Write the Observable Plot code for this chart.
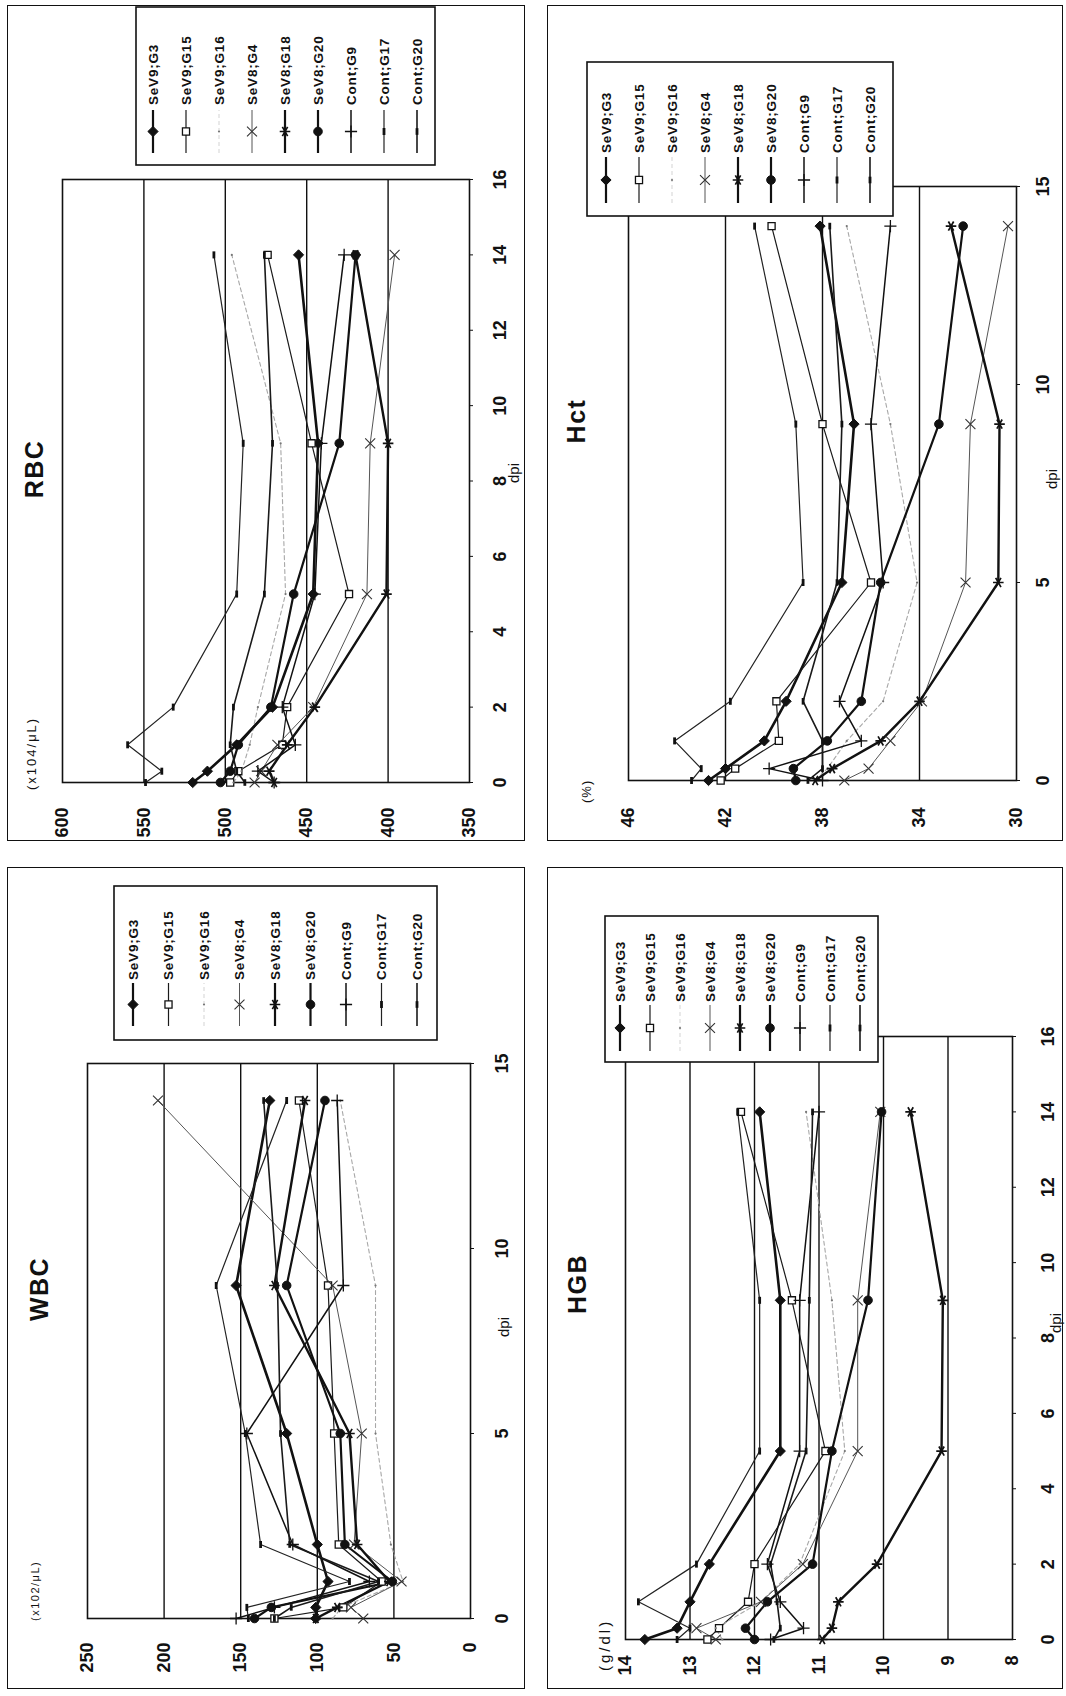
<!DOCTYPE html>
<html>
<head>
<meta charset="utf-8">
<script src="https://cdn.jsdelivr.net/npm/d3@7"></script>
<script src="https://cdn.jsdelivr.net/npm/@observablehq/plot@0.6"></script>
<style>
html, body { margin: 0; padding: 0; background: #fff; }
#page { position: relative; width: 1066px; height: 1696px; overflow: hidden; background: #fff; }
.inner { position: absolute; transform-origin: 0 0; }
.inner svg { position: absolute; left: 0; top: 0; overflow: visible; }
.border { position: absolute; box-sizing: border-box; border: 1.6px solid #111; pointer-events: none; }
</style>
</head>
<body>
<div id="page"></div>
<script>
// ---------- data ----------
const days = [0, 0.3, 1, 2, 5, 9, 14];
const seriesNames = ["SeV9;G3", "SeV9;G15", "SeV9;G16", "SeV8;G4", "SeV8;G18", "SeV8;G20", "Cont;G9", "Cont;G17", "Cont;G20"];

// RBC (x104/μL), one row per series, one value per day
const rbcValues = [
  [520, 511, 493, 471, 446, 443, 455],
  [497, 492, 465, 462, 424, 447, 474],
  [495, 490, 485, 480, 463, 466, 496],
  [482, 478, 468, 446, 413, 411, 396],
  [470, 473, 462, 445, 401, 400, 420],
  [503, 497, 492, 472, 458, 430, 420],
  [470, 480, 457, 465, 445, 441, 427],
  [549, 539, 560, 532, 493, 489, 507],
  [488, 493, 497, 495, 476, 471, 476]
];
// Hct (%)
const hctValues = [
  [42.7, 42.0, 40.4, 39.5, 37.2, 36.7, 38.1],
  [42.2, 41.6, 39.8, 39.9, 36.0, 38.0, 40.1],
  [38.3, 37.8, 37.0, 35.5, 34.1, 35.2, 37.0],
  [37.1, 36.1, 35.2, 33.9, 32.1, 31.9, 30.35],
  [38.3, 37.6, 35.6, 34.0, 30.75, 30.7, 32.7],
  [39.1, 39.2, 37.8, 36.4, 35.6, 33.2, 32.2],
  [38.0, 40.2, 36.4, 37.3, 35.5, 36.0, 35.2],
  [43.4, 43.0, 44.1, 41.8, 38.8, 39.1, 40.8],
  [38.6, 38.0, 38.0, 38.8, 37.4, 37.2, 37.7]
];
// WBC (x102/μL)
const wbcValues = [
  [101, 101, 93, 100, 120, 153, 131],
  [128, 83, 58, 86, 89, 93, 112],
  [90, 84, 44, 52, 62, 62, 85],
  [70, 78, 45, 76, 71, 90, 204],
  [101, 87, 53, 74, 79, 128, 108],
  [141, 130, 51, 82, 85, 120, 95],
  [153, 128, 66, 116, 146, 83, 87],
  [145, 146, 79, 137, 147, 166, 120],
  [128, 117, 60, 118, 124, 126, 135]
];
// HGB (g/dl)
const hgbValues = [
  [13.7, 13.2, 13.0, 12.7, 11.6, 11.6, 11.92],
  [12.73, 12.55, 12.1, 12.0, 10.9, 11.42, 12.21],
  [12.5, 12.6, 11.9, 11.3, 10.6, 10.8, 11.2],
  [12.6, 12.9, 11.9, 11.25, 10.4, 10.4, 10.05],
  [10.95, 10.8, 10.7, 10.1, 9.1, 9.08, 9.58],
  [12.0, 12.14, 11.8, 11.1, 10.8, 10.24, 10.03],
  [11.75, 11.24, 11.6, 11.8, 11.3, 11.3, 11.0],
  [13.2, 13.0, 13.8, 12.9, 11.92, 11.92, 12.26],
  [11.7, 11.6, 11.65, 11.75, 11.2, 11.15, 11.1]
];

// tick labels
const rbcTicks = [350, 400, 450, 500, 550, 600];
const rbcGrid = [400, 450, 500, 550];
const rbcDayTicks = [0, 2, 4, 6, 8, 10, 12, 14, 16];
const hctTicks = [30, 34, 38, 42, 46];
const hctGrid = [34, 38, 42];
const hctDayTicks = [0, 5, 10, 15];
const wbcTicks = [0, 50, 100, 150, 200, 250];
const wbcGrid = [50, 100, 150, 200];
const wbcDayTicks = [0, 5, 10, 15];
const hgbTicks = [8, 9, 10, 11, 12, 13, 14];
const hgbGrid = [9, 10, 11, 12, 13];
const hgbDayTicks = [0, 2, 4, 6, 8, 10, 12, 14, 16];

// ---------- styles ----------
const dashSymbol = {
  draw(ctx, size) {
    const w = Math.sqrt(size) * 1.1, h = 1.4;
    ctx.moveTo(-w / 2, -h); ctx.lineTo(w / 2, -h); ctx.lineTo(w / 2, h); ctx.lineTo(-w / 2, h); ctx.closePath();
  }
};
const styles = [
  {color: "#111", width: 2.6, symbol: d3.symbolDiamond2, r: 4.6, fill: "#111", stroke: "#111", sw: 1},
  {color: "#1a1a1a", width: 1.2, symbol: d3.symbolSquare, r: 4.0, fill: "#fff", stroke: "#111", sw: 1.3},
  {color: "#a8a8a8", width: 1.1, dash: "4,3", symbol: d3.symbolCircle, r: 1.1, fill: "#777", stroke: "none", sw: 0},
  {color: "#555", width: 1.0, symbol: d3.symbolTimes, r: 4.6, fill: "none", stroke: "#333", sw: 1.1},
  {color: "#111", width: 2.4, symbol: d3.symbolAsterisk, r: 5.0, fill: "none", stroke: "#111", sw: 1.7},
  {color: "#111", width: 2.2, symbol: d3.symbolCircle, r: 4.3, fill: "#111", stroke: "#111", sw: 1},
  {color: "#111", width: 1.5, symbol: d3.symbolPlus, r: 4.0, fill: "none", stroke: "#111", sw: 1.3},
  {color: "#222", width: 1.2, symbol: dashSymbol, r: 3.6, fill: "#111", stroke: "none", sw: 0},
  {color: "#1a1a1a", width: 1.6, symbol: dashSymbol, r: 3.4, fill: "#111", stroke: "none", sw: 0}
];

// ---------- panels (image box L,T,w,h; everything else in un-rotated coordinates) ----------
const panels = [
  {title: "RBC", unit: "(x104/μL)", values: rbcValues, ticks: rbcTicks, grid: rbcGrid, dayTicks: rbcDayTicks,
   L: 7, T: 5, w: 518, h: 836, xDomain: [0, 16], yDomain: [350, 600],
   m: {left: 58, right: 175, top: 55, bottom: 56}, xPad: 20, yPad: 25,
   titlePos: [372, 27], unitPos: [51, 24.5, 13, 2], dpiPos: [368, 506],
   legend: {u: 676, v: 129, w: 158, h: 299, first: 17, step: 33, l1: 12, l2: 55, tx: 60}},
  {title: "Hct", unit: "(%)", values: hctValues, ticks: hctTicks, grid: hctGrid, dayTicks: hctDayTicks,
   L: 547, T: 5, w: 516, h: 836, xDomain: [0, 15], yDomain: [30, 46],
   m: {left: 60, right: 182, top: 81, bottom: 47}, xPad: 16, yPad: 27,
   titlePos: [420, 29], unitPos: [38, 39, 13, 1], dpiPos: [362, 504],
   legend: {u: 625, v: 40, w: 154, h: 306, first: 19, step: 33, l1: 13, l2: 59, tx: 63}},
  {title: "WBC", unit: "(x102/μL)", values: wbcValues, ticks: wbcTicks, grid: wbcGrid, dayTicks: wbcDayTicks,
   L: 7, T: 867, w: 518, h: 822, xDomain: [0, 15], yDomain: [0, 250],
   m: {left: 70, right: 197, top: 80, bottom: 55}, xPad: 21, yPad: 24,
   titlePos: [400, 32], unitPos: [68, 28, 11, 1.5], dpiPos: [362, 496],
   legend: {u: 649, v: 107, w: 154, h: 323, first: 19, step: 35.5, l1: 14, l2: 57, tx: 60}},
  {title: "HGB", unit: "(g/dl)", values: hgbValues, ticks: hgbTicks, grid: hgbGrid, dayTicks: hgbDayTicks,
   L: 547, T: 867, w: 516, h: 822, xDomain: [0, 16], yDomain: [8, 14],
   m: {left: 49, right: 170, top: 78, bottom: 51}, xPad: 25, yPad: 16,
   titlePos: [405, 30], unitPos: [18, 57, 15, 3], dpiPos: [366, 508],
   legend: {u: 627, v: 58, w: 146, h: 273, first: 15, step: 30, l1: 11, l2: 57, tx: 60}}
];

const page = document.getElementById("page");
const FONT = "'Liberation Sans', Arial, Helvetica, sans-serif";

for (const p of panels) {
  const W = p.h, H = p.w; // un-rotated width/height
  const inner = document.createElement("div");
  inner.className = "inner";
  inner.style.left = p.L + "px";
  inner.style.top = p.T + "px";
  inner.style.width = W + "px";
  inner.style.height = H + "px";
  inner.style.transform = `translate(0px, ${W}px) rotate(-90deg)`;

  const rows = [];
  p.values.forEach((vals, si) => vals.forEach((v, di) => rows.push({series: seriesNames[si], si, day: days[di], value: v})));

  const marks = [
    Plot.ruleY(p.grid, {stroke: "#111", strokeWidth: 1.4}),
    Plot.frame({stroke: "#111", strokeWidth: 1.6})
  ];
  seriesNames.forEach((name, si) => {
    const st = styles[si];
    marks.push(Plot.line(rows.filter(r => r.si === si), {x: "day", y: "value", stroke: st.color, strokeWidth: st.width, strokeDasharray: st.dash, strokeLinejoin: "round"}));
  });
  seriesNames.forEach((name, si) => {
    const st = styles[si];
    marks.push(Plot.dot(rows.filter(r => r.si === si), {x: "day", y: "value", symbol: st.symbol, r: st.r, fill: st.fill, stroke: st.stroke, strokeWidth: st.sw}));
  });
  marks.push(Plot.axisX({ticks: p.dayTicks, tickSize: 4, tickPadding: p.xPad, tickFormat: d => String(d), label: null, stroke: "#111"}));
  marks.push(Plot.axisY({ticks: p.ticks, tickSize: 0, tickPadding: p.yPad, tickFormat: d => String(d), label: null}));

  const chart = Plot.plot({
    width: W, height: H,
    marginLeft: p.m.left, marginRight: p.m.right, marginTop: p.m.top, marginBottom: p.m.bottom,
    x: {domain: p.xDomain},
    y: {domain: p.yDomain},
    style: {fontFamily: FONT, fontSize: "18px", fontWeight: "bold", color: "#111", background: "transparent", overflow: "visible"},
    marks
  });
  inner.appendChild(chart);

  // overlay: title, unit, axis label, legend
  const ov = d3.create("svg").attr("width", W).attr("height", H)
    .style("font-family", FONT).style("overflow", "visible");
  ov.append("text").attr("x", p.titlePos[0]).attr("y", p.titlePos[1])
    .attr("text-anchor", "middle").attr("dominant-baseline", "central")
    .attr("font-size", 25).attr("font-weight", "bold").attr("letter-spacing", 1.5).attr("fill", "#111").text(p.title);
  ov.append("text").attr("x", p.unitPos[0]).attr("y", p.unitPos[1])
    .attr("dominant-baseline", "central").attr("font-size", p.unitPos[2]).attr("letter-spacing", p.unitPos[3])
    .attr("fill", "#111").text(p.unit);
  ov.append("text").attr("x", p.dpiPos[0]).attr("y", p.dpiPos[1])
    .attr("text-anchor", "middle").attr("dominant-baseline", "central")
    .attr("font-size", 15).attr("fill", "#111").text("dpi");

  const lg = p.legend;
  const g = ov.append("g").attr("transform", `translate(${lg.u},${lg.v})`);
  g.append("rect").attr("width", lg.w).attr("height", lg.h).attr("fill", "#fff").attr("stroke", "#111").attr("stroke-width", 1.6);
  seriesNames.forEach((name, i) => {
    const st = styles[i];
    const y = lg.first + i * lg.step;
    g.append("line").attr("x1", lg.l1).attr("x2", lg.l2).attr("y1", y).attr("y2", y)
      .attr("stroke", i === 2 ? "#d8d8d8" : st.color).attr("stroke-width", Math.min(st.width, 2.2))
      .attr("stroke-dasharray", st.dash || null);
    g.append("path").attr("transform", `translate(${(lg.l1 + lg.l2) / 2},${y})`)
      .attr("d", d3.symbol(st.symbol, st.r * st.r * Math.PI)())
      .attr("fill", st.fill).attr("stroke", st.stroke).attr("stroke-width", st.sw);
    g.append("text").attr("x", lg.tx).attr("y", y).attr("dominant-baseline", "central")
      .attr("font-size", 13.5).attr("font-weight", "bold").attr("letter-spacing", 0.8).attr("fill", "#111").text(name);
  });
  inner.appendChild(ov.node());
  page.appendChild(inner);

  const b = document.createElement("div");
  b.className = "border";
  b.style.left = p.L + "px"; b.style.top = p.T + "px";
  b.style.width = p.w + "px"; b.style.height = p.h + "px";
  page.appendChild(b);
}
</script>
</body>
</html>
